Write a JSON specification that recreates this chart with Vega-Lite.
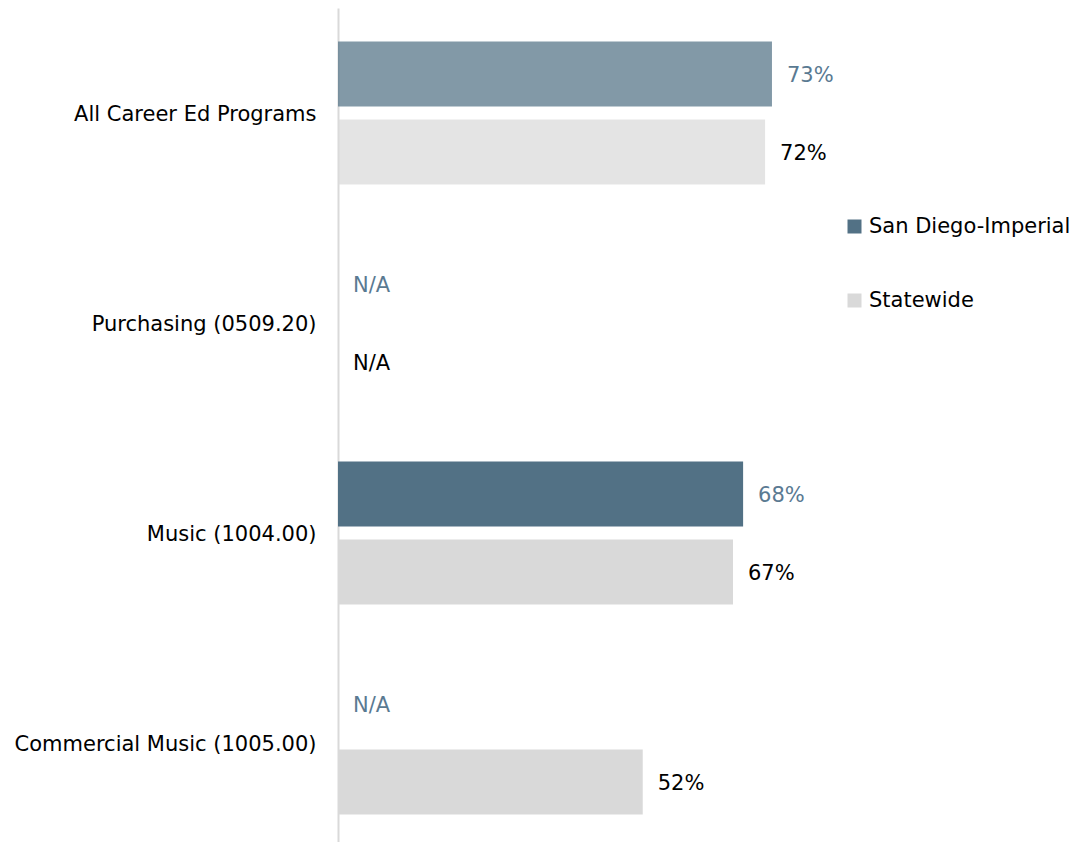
{
  "$schema": "https://vega.github.io/schema/vega-lite/v6.json",
  "width": 594,
  "height": 840,
  "autosize": "none",
  "padding": {"left": 338, "top": 8, "right": 149, "bottom": 0},
  "config": {"view": {"stroke": null}, "font": "DejaVu Sans"},
  "data": {
    "values": [
      {"cat": "All Career Ed Programs", "series": "San Diego-Imperial", "value": 0.7306, "label": "73%", "pattern": true},
      {"cat": "All Career Ed Programs", "series": "Statewide", "value": 0.719, "label": "72%", "pattern": true},
      {"cat": "Purchasing (0509.20)", "series": "San Diego-Imperial", "value": null, "label": "N/A", "pattern": false},
      {"cat": "Purchasing (0509.20)", "series": "Statewide", "value": null, "label": "N/A", "pattern": false},
      {"cat": "Music (1004.00)", "series": "San Diego-Imperial", "value": 0.682, "label": "68%", "pattern": false},
      {"cat": "Music (1004.00)", "series": "Statewide", "value": 0.665, "label": "67%", "pattern": false},
      {"cat": "Commercial Music (1005.00)", "series": "San Diego-Imperial", "value": null, "label": "N/A", "pattern": false},
      {"cat": "Commercial Music (1005.00)", "series": "Statewide", "value": 0.513, "label": "52%", "pattern": false}
    ]
  },
  "encoding": {
    "y": {
      "field": "cat", "type": "nominal",
      "sort": ["All Career Ed Programs", "Purchasing (0509.20)", "Music (1004.00)", "Commercial Music (1005.00)"],
      "scale": {"domain": ["All Career Ed Programs", "Purchasing (0509.20)", "Music (1004.00)", "Commercial Music (1005.00)"], "paddingInner": 0.32, "paddingOuter": 0.16},
      "axis": {"title": null, "ticks": false, "labelFontSize": 21, "labelPadding": 22, "labelOffset": 2, "labelColor": "#000000", "domainColor": "#d9d9d9", "domainWidth": 2, "labelLimit": 400}
    },
    "yOffset": {"field": "series", "type": "nominal", "sort": ["San Diego-Imperial", "Statewide"], "scale": {"domain": ["San Diego-Imperial", "Statewide"], "paddingInner": 0.167, "paddingOuter": 0}}
  },
  "layer": [
    {
      "mark": {"type": "bar"},
      "encoding": {
        "x": {"field": "value", "type": "quantitative", "scale": {"domain": [0, 1]}, "axis": null},
        "color": {
          "field": "series", "type": "nominal",
          "scale": {"domain": ["San Diego-Imperial", "Statewide"], "range": ["#527185", "#d9d9d9"]},
          "legend": {"title": null, "orient": "none", "legendX": 506, "legendY": 208, "symbolType": "square", "symbolSize": 196, "symbolStrokeWidth": 0, "labelFontSize": 21, "labelColor": "#000000", "labelOffset": 4, "rowPadding": 52, "labelLimit": 400}
        },
        "fillOpacity": {"condition": {"test": "datum.pattern", "value": 0.72}, "value": 1}
      }
    },
    {
      "transform": [{"calculate": "datum.value == null ? 0 : datum.value", "as": "lx"}],
      "mark": {"type": "text", "align": "left", "baseline": "middle", "dx": 15, "dy": 2, "fontSize": 21},
      "encoding": {
        "x": {"field": "lx", "type": "quantitative"},
        "text": {"field": "label"},
        "color": {"condition": {"test": "datum.series == 'Statewide'", "value": "#000000"}, "value": "#5a7a92"}
      }
    }
  ]
}
